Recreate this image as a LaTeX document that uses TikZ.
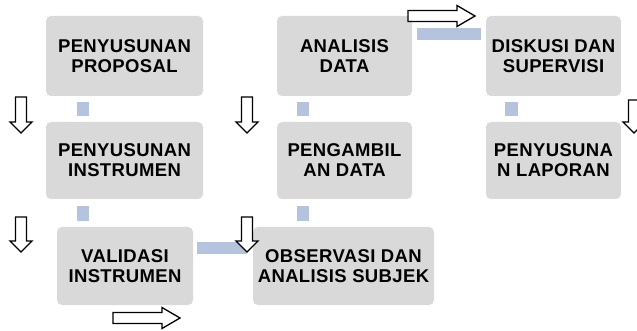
\documentclass[tikz,border=0pt]{standalone}
\usepackage{fontspec}
\newfontfamily\boxfont[LetterSpace=2]{Liberation Sans}
\usetikzlibrary{calc}
\definecolor{boxgray}{RGB}{217,217,217}
\definecolor{linkblue}{RGB}{180,196,222}
\tikzset{
  stage/.style={fill=boxgray, rounded corners=5pt, inner sep=0pt,
    align=center, font=\boxfont\bfseries\fontsize{18.5}{20}\selectfont},
  link/.style={fill=linkblue},
  blockarrow/.style={draw=black, fill=white, line width=1.3pt, line join=miter}
}
% down block arrow: centre x, top y, tip y
\newcommand\downarrowat[3]{%
  \draw[blockarrow] (#1-5.5,#2) -- (#1+5.5,#2) -- (#1+5.5,#3-11) -- (#1+11,#3-11)
    -- (#1,#3) -- (#1-11,#3-11) -- (#1-5.5,#3-11) -- cycle;}
% right block arrow: left x, centre y, tip x
\newcommand\rightarrowat[3]{%
  \draw[blockarrow] (#1,#2-5.5) -- (#3-18,#2-5.5) -- (#3-18,#2-10.5) -- (#3,#2)
    -- (#3-18,#2+10.5) -- (#3-18,#2+5.5) -- (#1,#2+5.5) -- cycle;}
\begin{document}
\begin{tikzpicture}[x=1pt,y=-1pt]
\useasboundingbox (0,0) rectangle (637,331);
\clip (0,0) rectangle (637,331);

% process stages
\node[stage, minimum width=157pt, minimum height=80pt] (p1) at (124.5,56) {PENYUSUNAN\\PROPOSAL};
\node[stage, minimum width=157pt, minimum height=77pt] (p2) at (124.5,160.5) {PENYUSUNAN\\INSTRUMEN};
\node[stage, minimum width=136pt, minimum height=78pt] (p3) at (125,266) {VALIDASI\\INSTRUMEN};
\node[stage, minimum width=181pt, minimum height=78pt] (a3) at (343.5,266) {OBSERVASI DAN\\ANALISIS SUBJEK};
\node[stage, minimum width=135pt, minimum height=77pt] (a2) at (344.5,160.5) {PENGAMBIL\\AN DATA};
\node[stage, minimum width=135pt, minimum height=80pt] (a1) at (344.5,56) {ANALISIS\\DATA};
\node[stage, minimum width=135pt, minimum height=80pt] (d1) at (553.5,56) {DISKUSI DAN\\SUPERVISI};
\node[stage, minimum width=135pt, minimum height=77pt] (d2) at (553.5,160.5) {PENYUSUNA\\N LAPORAN};

% connecting bars between stages
\fill[link] ($(p1.south west)+(31,6)$) rectangle ++(12,14);
\fill[link] ($(p2.south west)+(31,7)$) rectangle ++(12,15);
\fill[link] ($(p3.east)+(4,-12)$) rectangle ($(a3.west)+(-6,-24)$);
\fill[link] ($(a1.south west)+(20,6)$) rectangle ++(12,14);
\fill[link] ($(a2.south west)+(20,7)$) rectangle ++(12,15);
\fill[link] ($(a1.north east)+(5,12)$) rectangle ($(d1.north west)+(-5,24)$);
\fill[link] ($(d1.south west)+(19,6)$) rectangle ++(13,14);

% direction arrows
\downarrowat{21}{97}{133}
\downarrowat{21}{217}{252}
\downarrowat{247}{97}{133}
\downarrowat{247}{217}{252}
\downarrowat{634}{100}{133}
\rightarrowat{408}{16}{475}
\rightarrowat{113}{318}{180}
\end{tikzpicture}
\end{document}
